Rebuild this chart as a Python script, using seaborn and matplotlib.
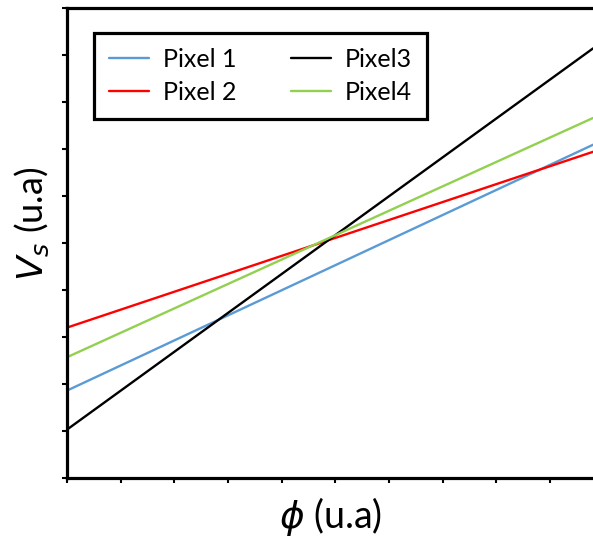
import pandas as pd
import matplotlib.pyplot as plt
import seaborn as sns

# Valores (unidades arbitrárias)
phi = [0.0, 9.8]
pixel1 = [1.86, 7.09]
pixel2 = [3.20, 6.94]
pixel3 = [1.03, 9.14]
pixel4 = [2.57, 7.66]

nomes = ["Pixel 1", "Pixel 2", "Pixel3", "Pixel4"]
cores = ["#5b9bd5", "#ff0000", "#000000", "#92d050"]

df = pd.DataFrame({
    "phi": phi * 4,
    "vs": pixel1 + pixel2 + pixel3 + pixel4,
    "serie": [n for n in nomes for _ in phi],
})

sns.set_style("white")
plt.rcParams["font.family"] = ["Lato", "DejaVu Sans"]
plt.rcParams["mathtext.fontset"] = "dejavusans"
plt.rcParams["text.color"] = "black"
plt.rcParams["axes.labelcolor"] = "black"

fig = plt.figure(figsize=(5.93, 5.39), dpi=100)
ax = fig.add_axes([67 / 593, 61 / 539, 526 / 593, 470 / 539])

sns.lineplot(data=df, x="phi", y="vs", hue="serie", palette=dict(zip(nomes, cores)),
             linewidth=1.7, ax=ax)

ax.set_xlim(0, 9.8)
ax.set_ylim(0, 10)
ax.set_xticks(range(0, 10))
ax.set_yticks(range(0, 11))
ax.set_xticklabels([])
ax.set_yticklabels([])
ax.tick_params(direction="out", length=3.5, width=1.5, colors="black",
               bottom=True, left=True)

for lado in ["left", "bottom", "top"]:
    ax.spines[lado].set_visible(True)
    ax.spines[lado].set_color("black")
    ax.spines[lado].set_linewidth(2.3)
ax.spines["right"].set_visible(False)

ax.set_xlabel(r"$\phi$ (u.a)", fontsize=27, labelpad=5)
ax.set_ylabel(r"$V_s$ (u.a)", fontsize=26)
ax.yaxis.set_label_coords(-0.03, 0.54)

leg = ax.legend(loc="upper left", bbox_to_anchor=(0.051, 0.947), borderaxespad=0,
                ncol=2, fontsize=18, frameon=True, fancybox=False,
                handlelength=1.6, handletextpad=0.55, columnspacing=2.2,
                borderpad=0.6, labelspacing=0.4)
leg.get_frame().set_edgecolor("black")
leg.get_frame().set_linewidth(2.3)
leg.get_frame().set_alpha(1)

fig.savefig("out.png", dpi=100)
